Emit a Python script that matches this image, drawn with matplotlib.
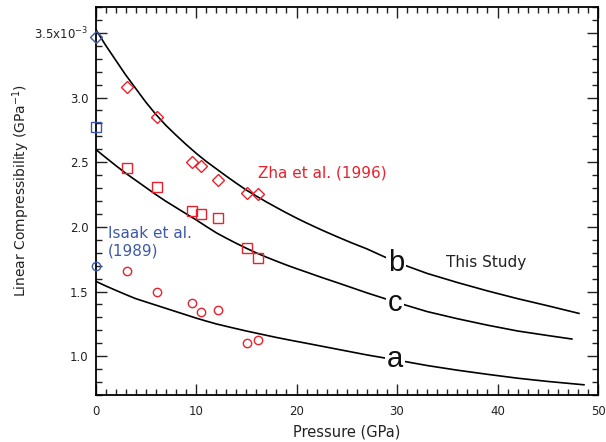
import matplotlib
matplotlib.use("Agg")
import matplotlib.pyplot as plt
from matplotlib.ticker import MultipleLocator, FixedLocator, FixedFormatter

# ---- data ----
# Zha et al. (1996) measurements (red)
zha_p = [3.1, 6.1, 9.6, 10.5, 12.2, 15.1, 16.2]
zha_b = [3.08, 2.85, 2.505, 2.47, 2.364, 2.26, 2.256]   # diamonds
zha_c = [2.456, 2.305, 2.123, 2.102, 2.072, 1.833, 1.756]  # squares
zha_a = [1.662, 1.50, 1.415, 1.343, 1.356, 1.10, 1.125]  # circles

# Isaak et al. (1989) (blue, at zero pressure)
isaak_p = [0.0]
isaak_b = [3.466]
isaak_c = [2.77]
isaak_a = [1.697]

# This study curves
curve_b_p = [0, 1, 2, 3, 4, 5, 6, 7, 8, 9, 10, 11, 12, 13, 14, 15, 16, 17, 18, 19, 20, 21,
             22.5, 24, 25.5, 27, 28.5, 30, 33, 36, 39, 42, 45, 48.1]
curve_b_v = [3.53, 3.405, 3.29, 3.175, 3.07, 2.965, 2.87, 2.785, 2.71, 2.638, 2.57, 2.507,
             2.45, 2.393, 2.338, 2.285, 2.238, 2.193, 2.15, 2.108, 2.068, 2.03,
             1.976, 1.925, 1.876, 1.83, 1.777, 1.725, 1.64, 1.57, 1.505, 1.445, 1.39, 1.331]
curve_c_p = [0, 1, 2, 3, 4, 5, 6, 7, 8, 9, 10, 11, 12, 13, 14, 15, 16, 17, 18, 19, 20, 21,
             22.5, 24, 25.5, 27, 30, 33, 36, 39, 42, 45, 47.4]
curve_c_v = [2.60, 2.537, 2.475, 2.415, 2.36, 2.305, 2.25, 2.198, 2.15, 2.102, 2.055, 2.004,
             1.955, 1.913, 1.873, 1.835, 1.799, 1.766, 1.735, 1.705, 1.677, 1.65,
             1.609, 1.57, 1.53, 1.49, 1.415, 1.345, 1.29, 1.24, 1.195, 1.16, 1.133]
curve_a_p = [0, 1, 2, 3, 4, 5, 6, 7, 8, 9, 10, 11, 12, 13.5, 15, 16.5, 18, 19.5, 21, 24, 27,
             30, 33, 36, 39, 42, 45, 48.6]
curve_a_v = [1.58, 1.544, 1.51, 1.477, 1.445, 1.42, 1.395, 1.37, 1.345, 1.32, 1.295, 1.272,
             1.25, 1.222, 1.195, 1.17, 1.145, 1.122, 1.10, 1.055, 1.01,
             0.97, 0.928, 0.892, 0.86, 0.83, 0.805, 0.779]

ytick_vals = [1.0, 1.5, 2.0, 2.5, 3.0, 3.5]
ytick_labels = ["1.0", "1.5", "2.0", "2.5", "3.0", r"3.5x10$^{-3}$"]
xtick_vals = [0, 10, 20, 30, 40, 50]

RED = "#e8222c"
BLUE = "#3d5aa8"
TXT = "#222222"

plt.rcParams['font.family'] = ['DejaVu Sans']
fig = plt.figure(figsize=(6.06, 4.42), dpi=100)
ax = fig.add_axes([0.1576, 0.1063, 0.9868 - 0.1576, 0.9842 - 0.1063])

lw = 1.2
ax.plot(curve_b_p, curve_b_v, color="black", lw=lw, zorder=2)
ax.plot(curve_c_p, curve_c_v, color="black", lw=lw, zorder=2)
ax.plot(curve_a_p, curve_a_v, color="black", lw=lw, zorder=2)

mkw = dict(linestyle="none", markerfacecolor="none", markeredgewidth=1.0, zorder=3)
ax.plot(zha_p, zha_b, marker="D", markersize=6.5, markeredgecolor=RED, **mkw)
ax.plot(zha_p, zha_c, marker="s", markersize=6.5, markeredgecolor=RED, **mkw)
ax.plot(zha_p, zha_a, marker="o", markersize=6.0, markeredgecolor=RED, **mkw)
ax.plot(isaak_p, isaak_b, marker="D", markersize=6.5, markeredgecolor=BLUE, clip_on=False, **mkw)
ax.plot(isaak_p, isaak_c, marker="s", markersize=6.5, markeredgecolor=BLUE, clip_on=False, **mkw)
ax.plot(isaak_p, isaak_a, marker="o", markersize=6.0, markeredgecolor=BLUE, clip_on=False, **mkw)

lbl_kw = dict(fontsize=21, family="Liberation Sans", ha="center", va="baseline", color="#111111",
              bbox=dict(facecolor="white", edgecolor="none", pad=1.5), zorder=4)
ax.text(29.9, 1.658, "b", **lbl_kw)
ax.text(29.8, 1.351, "c", **lbl_kw)
ax.text(29.8, 0.915, "a", **lbl_kw)

ax.text(34.9, 1.725, "This Study", fontsize=11, color=TXT, va="center", ha="left")
ax.text(16.2, 2.42, "Zha et al. (1996)", fontsize=11, color=RED, va="center", ha="left")
ax.text(1.2, 1.88, "Isaak et al.\n(1989)", fontsize=11, color=BLUE, va="center", ha="left",
        linespacing=1.25)

ax.set_xlim(0, 50)
ax.set_ylim(0.7, 3.7)
ax.xaxis.set_major_locator(FixedLocator(xtick_vals))
ax.xaxis.set_minor_locator(MultipleLocator(1))
ax.yaxis.set_major_locator(FixedLocator(ytick_vals))
ax.yaxis.set_major_formatter(FixedFormatter(ytick_labels))
ax.yaxis.set_minor_locator(MultipleLocator(0.1))
ax.tick_params(which="both", direction="in", top=True, right=True, width=1.0,
               labelsize=8.5, colors=TXT)
ax.tick_params(which="major", length=8)
ax.tick_params(which="minor", length=4)
ax.tick_params(axis="x", which="major", pad=7)
ax.tick_params(axis="y", which="major", pad=5)
for s in ax.spines.values():
    s.set_linewidth(1.3)

ax.set_xlabel("Pressure (GPa)", fontsize=10.5, color=TXT)
ax.set_ylabel(r"Linear Compressibility (GPa$^{-1}$)", fontsize=10, color=TXT)
ax.xaxis.set_label_coords(0.5, -0.075)
ax.yaxis.set_label_coords(-0.126, 0.528)

fig.savefig("out.png", dpi=100)
